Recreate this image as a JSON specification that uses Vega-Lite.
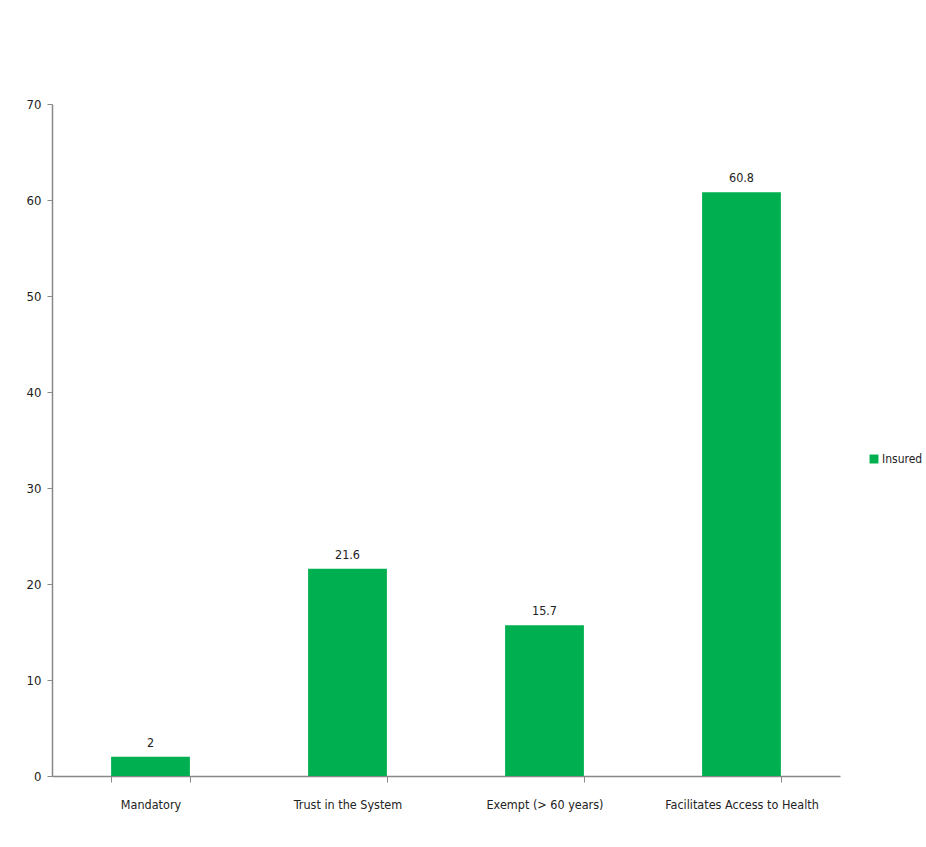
{
  "$schema": "https://vega.github.io/schema/vega-lite/v6.json",
  "width": 788,
  "height": 672,
  "autosize": {"type": "none"},
  "padding": {"left": 52, "top": 104, "right": 86, "bottom": 71},
  "background": "white",
  "config": {"view": {"stroke": null}, "font": "DejaVu Sans Condensed, Liberation Sans, sans-serif"},
  "data": {"values": [
    {"category": "Mandatory", "value": 2, "series": "Insured"},
    {"category": "Trust in the System", "value": 21.6, "series": "Insured"},
    {"category": "Exempt (> 60 years)", "value": 15.7, "series": "Insured"},
    {"category": "Facilitates Access to Health", "value": 60.8, "series": "Insured"}
  ]},
  "encoding": {
    "x": {"field": "category", "type": "nominal", "sort": null,
      "scale": {"paddingInner": 0.6, "paddingOuter": 0.3},
      "axis": {"title": null, "labelAngle": 0, "labelFontSize": 12.5, "labelColor": "#222", "labelPadding": 16, "labelFont": "DejaVu Sans Condensed, Liberation Sans, sans-serif",
        "domainColor": "#888", "tickColor": "#888", "tickBand": "extent", "tickSize": 6, "domainWidth": 1.5}},
    "y": {"field": "value", "type": "quantitative",
      "scale": {"domain": [0, 70]},
      "axis": {"title": null, "grid": false, "values": [0,10,20,30,40,50,60,70], "labelFontSize": 13, "labelColor": "#222", "labelFont": "DejaVu Sans Condensed, Liberation Sans, sans-serif", "labelOverlap": false,
        "domainColor": "#888", "tickColor": "#888", "tickSize": 5, "labelPadding": 6, "domainWidth": 1.5}}
  },
  "layer": [
    {"mark": {"type": "bar", "color": "#00B050"},
     "encoding": {"color": {"field": "series", "type": "nominal", "scale": {"range": ["#00B050"]},
       "legend": {"title": null, "orient": "none", "legendX": 816, "legendY": 349, "symbolType": "square", "symbolSize": 80, "labelFontSize": 12, "labelColor": "#222", "labelOffset": 2, "labelFont": "DejaVu Sans Condensed, Liberation Sans, sans-serif"}}}},
    {"mark": {"type": "text", "dy": -14, "fontSize": 12.5, "color": "#222", "font": "DejaVu Sans Condensed, Liberation Sans, sans-serif"},
     "encoding": {"text": {"field": "value", "type": "quantitative"}}}
  ]
}
